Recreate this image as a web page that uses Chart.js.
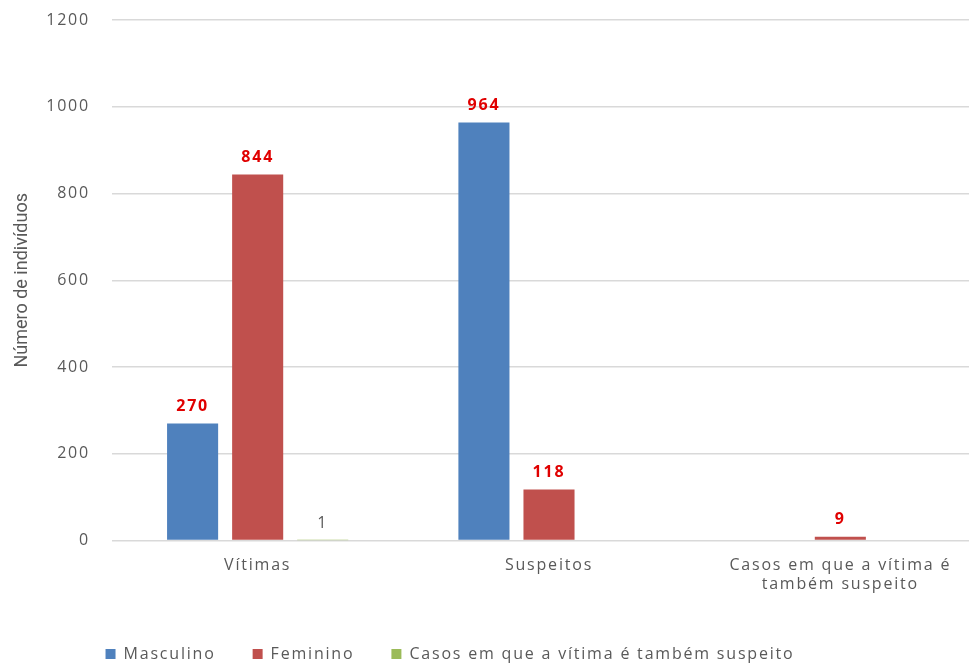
<!DOCTYPE html>
<html lang="pt">
  <head>
    <meta charset="UTF-8" />
    <script src="https://cdn.jsdelivr.net/npm/chart.js@4.4.1/dist/chart.umd.min.js"></script>
    <title>Número de indivíduos</title>
    <style>
      body {
        margin: 0;
        padding: 0;
        background: #fff;
      }

      /* the original picture is cut off on the right, so the chart runs past the frame */
      .frame {
        width: 969px;
        height: 664px;
        overflow: hidden;
      }

      .container {
        width: 986px;
        height: 664px;
      }
    </style>
  </head>
  <body>
    <div class="frame">
      <div class="container">
        <canvas id="chart"></canvas>
      </div>
    </div>
    <script>
      const categories = [
        'Vítimas',
        'Suspeitos',
        ['Casos em que a vítima é', 'também suspeito'],
      ]
      const seriesNames = ['Masculino', 'Feminino', 'Casos em que a vítima é também suspeito']
      const masculino = [270, 964, null]
      const feminino = [844, 118, 9]
      const ambos = [1, null, null]
      const yTicks = [0, 200, 400, 600, 800, 1000, 1200]

      const labelColors = ['#e00000', '#e00000', '#595959']
      const SPACING = '1.8px'

      // the original text is drawn wide, so spread the letters a little
      const wideText = {
        id: 'wideText',
        beforeUpdate(chart) {
          chart.ctx.letterSpacing = SPACING
        },
        beforeDraw(chart) {
          chart.ctx.letterSpacing = SPACING
          const y = chart.scales.y
          if (y && !y._plainTitle) {
            const orig = y.drawTitle
            y.drawTitle = function () {
              const c = this.ctx
              c.save()
              c.letterSpacing = '0px'
              orig.call(this)
              c.restore()
            }
            y._plainTitle = true
          }
        },
      }

      // draws the value above each bar, from the bar elements themselves
      const valueLabels = {
        id: 'valueLabels',
        afterDatasetsDraw(chart) {
          const ctx = chart.ctx
          ctx.save()
          ctx.textAlign = 'center'
          ctx.textBaseline = 'middle'
          chart.data.datasets.forEach((ds, i) => {
            const meta = chart.getDatasetMeta(i)
            meta.data.forEach((bar, j) => {
              const v = ds.data[j]
              if (v === null || v === undefined) return
              ctx.font = i < 2 ? 'bold 16px "Open Sans"' : '16px "Open Sans"'
              ctx.fillStyle = labelColors[i]
              ctx.fillText(String(v), bar.x, bar.y - 17)
            })
          })
          ctx.restore()
        },
      }

      // legend sits left of centre and a little lower in the original
      const legendShift = {
        id: 'legendShift',
        afterLayout(chart) {
          chart.legend.left -= 45
          chart.legend.right -= 45
          chart.legend.top += 8
          chart.legend.bottom += 8
        },
      }

      new Chart(document.getElementById('chart'), {
        type: 'bar',
        data: {
          labels: categories,
          datasets: [
            { label: seriesNames[0], data: masculino, backgroundColor: '#4f81bd' },
            { label: seriesNames[1], data: feminino, backgroundColor: '#c0504d' },
            { label: seriesNames[2], data: ambos, backgroundColor: '#9bbb59' },
          ],
        },
        options: {
          responsive: true,
          maintainAspectRatio: false,
          animation: false,
          barPercentage: 0.785,
          categoryPercentage: 0.67,
          layout: {
            padding: { top: 2, right: 0, left: 4, bottom: 0 },
          },
          plugins: {
            legend: {
              position: 'bottom',
              labels: {
                boxWidth: 10,
                boxHeight: 10,
                padding: 37,
                color: '#595959',
                font: { family: 'Open Sans', size: 16 },
              },
            },
            tooltip: { enabled: false },
          },
          scales: {
            x: {
              grid: { display: false },
              border: { display: false },
              ticks: {
                color: '#595959',
                padding: 7,
                font: { family: 'Open Sans', size: 16 },
              },
            },
            y: {
              min: 0,
              max: 1200,
              afterBuildTicks: (axis) => {
                axis.ticks = yTicks.map((v) => ({ value: v }))
              },
              afterFit: (axis) => {
                axis.width = 108
                axis.paddingTop = 20
              },
              grid: { color: '#d9d9d9', lineWidth: 1.5, drawTicks: false },
              border: { display: false },
              ticks: {
                color: '#595959',
                padding: 22,
                font: { family: 'Open Sans', size: 16 },
                callback: (v) => String(v),
              },
              title: {
                display: true,
                text: 'Número de indivíduos',
                color: '#595959',
                padding: { top: 8, bottom: 13 },
                font: { family: 'Roboto', size: 18 },
              },
            },
          },
        },
        plugins: [wideText, valueLabels, legendShift],
      })
    </script>
  </body>
</html>
